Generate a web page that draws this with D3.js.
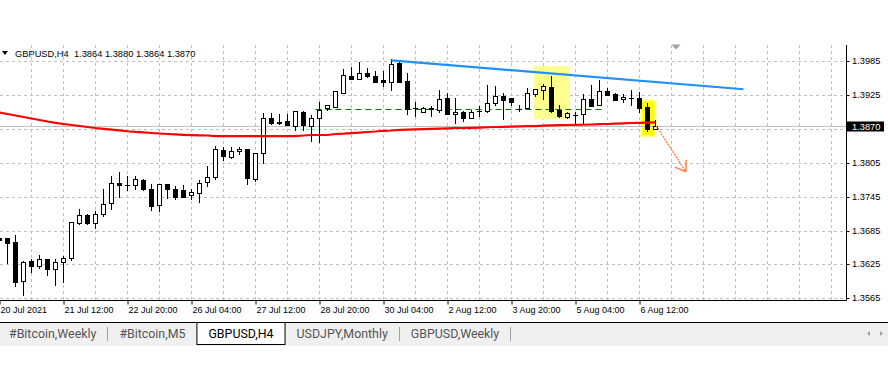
<!DOCTYPE html>
<html>
<head>
<meta charset="utf-8">
<style>
  body { margin: 0; background: #fff; }
  svg { display: block; font-family: Tahoma, "Liberation Sans", Arial, sans-serif; }
</style>
</head>
<body>
<svg width="888" height="384"></svg>
<script src="https://cdn.jsdelivr.net/npm/d3@7/dist/d3.min.js"></script>
<script>
// GBPUSD H4 bars
const open  = [1.3671,1.3671,1.3665,1.3596,1.3631,1.3623,1.3634,1.3616,1.3630,1.3637,
               1.3698,1.3712,1.3698,1.3715,1.3733,1.3769,1.3766,1.3765,1.3774,1.3758,
               1.3730,1.3767,1.3759,1.3757,1.3747,1.3752,1.3770,1.3780,1.3827,1.3815,
               1.3826,1.3829,1.3777,1.3823,1.3885,1.3877,1.3878,1.3870,1.3895,1.3870,
               1.3885,1.3901,1.3904,1.3929,1.3958,1.3953,1.3963,1.3958,1.3951,1.3948,
               1.3981,1.3950,1.3902,1.3894,1.3901,1.3899,1.3919,1.3891,1.3895,1.3885,
               1.3897,1.3896,1.3911,1.3923,1.3919,1.3900,1.3902,1.3927,1.3933,1.3939,
               1.3899,1.3886,1.3890,1.3891,1.3918,1.3908,1.3932,1.3926,1.3918,1.3920,
               1.3919,1.3904,1.3864];
const high  = [1.3673,1.3672,1.3677,1.3631,1.3634,1.3642,1.3635,1.3635,1.3640,1.3700,
               1.3723,1.3715,1.3720,1.3758,1.3782,1.3788,1.3782,1.3781,1.3776,1.3767,
               1.3767,1.3767,1.3764,1.3765,1.3759,1.3774,1.3800,1.3835,1.3832,1.3832,
               1.3832,1.3829,1.3822,1.3893,1.3893,1.3891,1.3891,1.3897,1.3897,1.3889,
               1.3913,1.3908,1.3932,1.3971,1.3975,1.3984,1.3972,1.3968,1.3968,1.3988,
               1.3984,1.3964,1.3912,1.3904,1.3905,1.3934,1.3928,1.3919,1.3897,1.3899,
               1.3905,1.3942,1.3941,1.3928,1.3919,1.3907,1.3937,1.3935,1.3944,1.3958,
               1.3907,1.3894,1.3895,1.3927,1.3943,1.3951,1.3937,1.3929,1.3926,1.3934,
               1.3931,1.3910,1.3880];
const low   = [1.3666,1.3627,1.3586,1.3571,1.3612,1.3619,1.3606,1.3589,1.3594,1.3633,
               1.3697,1.3696,1.3690,1.3711,1.3723,1.3744,1.3757,1.3758,1.3757,1.3721,
               1.3720,1.3743,1.3741,1.3744,1.3741,1.3736,1.3764,1.3776,1.3810,1.3814,
               1.3820,1.3767,1.3773,1.3804,1.3873,1.3873,1.3872,1.3862,1.3863,1.3844,
               1.3842,1.3899,1.3903,1.3928,1.3954,1.3953,1.3957,1.3948,1.3941,1.3934,
               1.3948,1.3891,1.3888,1.3894,1.3888,1.3894,1.3891,1.3876,1.3878,1.3884,
               1.3888,1.3894,1.3907,1.3883,1.3907,1.3896,1.3902,1.3923,1.3918,1.3894,
               1.3886,1.3885,1.3875,1.3875,1.3905,1.3907,1.3925,1.3916,1.3913,1.3907,
               1.3894,1.3861,1.3864];
const close = [1.3668,1.3663,1.3593,1.3629,1.3623,1.3635,1.3616,1.3629,1.3636,1.3700,
               1.3712,1.3699,1.3715,1.3732,1.3769,1.3766,1.3766,1.3776,1.3758,1.3729,
               1.3767,1.3759,1.3745,1.3745,1.3754,1.3769,1.3780,1.3829,1.3816,1.3826,
               1.3829,1.3778,1.3822,1.3885,1.3876,1.3876,1.3872,1.3897,1.3872,1.3884,
               1.3899,1.3907,1.3932,1.3960,1.3954,1.3963,1.3958,1.3948,1.3948,1.3979,
               1.3948,1.3900,1.3901,1.3901,1.3900,1.3917,1.3892,1.3895,1.3885,1.3895,
               1.3897,1.3910,1.3923,1.3916,1.3913,1.3900,1.3929,1.3935,1.3941,1.3897,
               1.3887,1.3893,1.3890,1.3917,1.3905,1.3932,1.3925,1.3916,1.3922,1.3920,
               1.3902,1.3865,1.3870];

// moving average (red)
const ma = [1.38938,1.38912,1.38885,1.38859,1.38832,1.38806,1.38779,1.38756,1.38735,1.38717,
            1.38699,1.38682,1.38664,1.38650,1.38636,1.38622,1.38607,1.38597,1.38586,1.38576,
            1.38567,1.38558,1.38551,1.38544,1.38538,1.38535,1.38531,1.38522,1.38522,1.38522,
            1.38522,1.38522,1.38522,1.38522,1.38522,1.38522,1.38522,1.38522,1.38531,1.38540,
            1.38540,1.38540,1.38558,1.38563,1.38572,1.38581,1.38593,1.38602,1.38615,1.38620,
            1.38632,1.38636,1.38641,1.38646,1.38650,1.38653,1.38659,1.38664,1.38664,1.38668,
            1.38671,1.38677,1.38682,1.38685,1.38689,1.38692,1.38696,1.38699,1.38707,1.38710,
            1.38714,1.38717,1.38719,1.38722,1.38726,1.38731,1.38735,1.38742,1.38747,1.38753,
            1.38756,1.38760,1.38763];

const dateTicks = ["20 Jul 2021","21 Jul 12:00","22 Jul 20:00","26 Jul 04:00","27 Jul 12:00",
                   "28 Jul 20:00","30 Jul 04:00","2 Aug 12:00","3 Aug 20:00","5 Aug 04:00","6 Aug 12:00"];
const priceTicks = [1.3985,1.3925,1.3865,1.3805,1.3745,1.3685,1.3625,1.3565];
const lastPrice = 1.3870;

// drawn objects: [bar index, price]
const blueTrend = [[49, 1.3986], [93, 1.3935]];
const greenLevel = [[39.5, 1.3900], [75.5, 1.3900]];
const arrow = [[82.1, 1.3870], [85.8, 1.3789]];
const paleBox = [[66.8, 1.3976], [71.3, 1.3882]];
const brightBox = [[80.1, 1.3917], [82.1, 1.3850]];

const tabs = ["#Bitcoin,Weekly", "#Bitcoin,M5", "GBPUSD,H4", "USDJPY,Monthly", "GBPUSD,Weekly"];
const activeTab = 2;

let svg = d3.select("svg");

const top_y = 45, axis_y = 300, axis_x = 846;
const x = d3.scaleLinear().domain([0, 82]).range([-0.5, 655.5]);
const y = d3.scaleLinear().domain([1.3565, 1.3985]).range([298.3, 61]);
const px = p => Math.round(y(p)) + 0.5;

svg.append("rect").attr("width", 888).attr("height", 384).attr("fill", "#fff");

// grid
let grid = svg.append("g").attr("stroke", "#c0c0c0").attr("stroke-dasharray", "3,3");
d3.range(4, 105, 4).forEach(i => {
  grid.append("line").attr("x1", x(i)).attr("x2", x(i)).attr("y1", top_y).attr("y2", axis_y);
});
priceTicks.forEach(p => {
  grid.append("line").attr("x1", 0).attr("x2", axis_x).attr("y1", px(p)).attr("y2", px(p));
});

// highlight boxes
svg.append("rect")
  .attr("x", x(paleBox[0][0])).attr("y", y(paleBox[0][1]))
  .attr("width", x(paleBox[1][0]) - x(paleBox[0][0]))
  .attr("height", y(paleBox[1][1]) - y(paleBox[0][1]))
  .attr("fill", "#ffff90");
svg.append("rect")
  .attr("x", x(brightBox[0][0]) + 1).attr("y", y(brightBox[0][1]) + 1)
  .attr("width", x(brightBox[1][0]) - x(brightBox[0][0]) - 2)
  .attr("height", y(brightBox[1][1]) - y(brightBox[0][1]) - 2)
  .attr("fill", "#ffff00").attr("stroke", "#ffff80").attr("stroke-width", 2);

// horizontal level
svg.append("line")
  .attr("x1", x(greenLevel[0][0])).attr("x2", x(greenLevel[1][0]))
  .attr("y1", px(greenLevel[0][1])).attr("y2", px(greenLevel[1][1]))
  .attr("stroke", "#007800").attr("stroke-dasharray", "6,4");

// last price line
svg.append("line").attr("x1", 0).attr("x2", axis_x)
  .attr("y1", px(lastPrice)).attr("y2", px(lastPrice)).attr("stroke", "#c0c0c0");

// candles
let candles = svg.append("g").attr("stroke", "#000").attr("stroke-width", 1);
open.forEach((o, i) => {
  const c = close[i], cx = x(i);
  candles.append("line").attr("x1", cx).attr("x2", cx)
    .attr("y1", px(high[i]) - 0.5).attr("y2", px(low[i]) + 0.5);
  const t = px(Math.max(o, c)), b = px(Math.min(o, c));
  if (b - t < 1) {
    candles.append("line").attr("x1", cx - 2.5).attr("x2", cx + 2.5).attr("y1", t).attr("y2", t);
  } else {
    candles.append("rect").attr("x", cx - 2).attr("width", 4)
      .attr("y", t).attr("height", b - t)
      .attr("fill", c >= o ? "#fff" : "#000");
  }
});

// moving average
svg.append("path").datum(ma)
  .attr("fill", "none").attr("stroke", "#ff0000").attr("stroke-width", 2.2)
  .attr("d", d3.line().x((d, i) => x(i)).y(d => y(d)));

// trend line
svg.append("line")
  .attr("x1", x(blueTrend[0][0])).attr("y1", y(blueTrend[0][1]))
  .attr("x2", x(blueTrend[1][0])).attr("y2", y(blueTrend[1][1]))
  .attr("stroke", "#1e90ff").attr("stroke-width", 2.2);

// arrow
const ax0 = x(arrow[0][0]), ay0 = y(arrow[0][1]), ax1 = x(arrow[1][0]), ay1 = y(arrow[1][1]);
const ang = Math.atan2(ay0 - ay1, ax0 - ax1);
let arrow_g = svg.append("g").attr("stroke", "#ff7f3f").attr("stroke-width", 1.4).attr("fill", "none");
arrow_g.append("line").attr("x1", ax0).attr("y1", ay0).attr("x2", ax1).attr("y2", ay1)
  .attr("stroke-dasharray", "2,1");
[-0.6, 0.6].forEach(da => {
  arrow_g.append("line").attr("x1", ax1).attr("y1", ay1)
    .attr("x2", ax1 + 12 * Math.cos(ang + da)).attr("y2", ay1 + 12 * Math.sin(ang + da));
});

// shift marker
svg.append("path").attr("d", "M671.5,44.5 L680.5,44.5 L676,49.5 Z").attr("fill", "#a0a0a0");

// title
svg.append("path").attr("d", "M2,51 L8,51 L5,55 Z").attr("fill", "#000");
svg.append("text").attr("x", 15).attr("y", 56.5).attr("font-size", "9.3px").attr("fill", "#000")
  .attr("xml:space", "preserve")
  .text("GBPUSD,H4  " + [open[82], high[82], low[82], close[82]].map(d3.format(".4f")).join(" "));

// axes
svg.append("line").attr("x1", 0).attr("x2", axis_x + 0.5).attr("y1", axis_y + 0.5).attr("y2", axis_y + 0.5).attr("stroke", "#000");
svg.append("line").attr("x1", axis_x + 0.5).attr("x2", axis_x + 0.5).attr("y1", top_y).attr("y2", axis_y + 0.5).attr("stroke", "#000");

let xAxis = svg.append("g").attr("transform", `translate(0,${axis_y + 0.5})`)
  .call(d3.axisBottom(x).tickValues(d3.range(0, 81, 8)).tickFormat((d, i) => dateTicks[i]).tickSize(4).tickSizeOuter(0));
xAxis.select(".domain").remove();
xAxis.selectAll("line").attr("stroke", "#000");
xAxis.selectAll("text").attr("text-anchor", "start").attr("dx", 0.5).attr("y", 6)
  .attr("font-family", "Tahoma, 'Liberation Sans', Arial, sans-serif").attr("font-size", "9px").attr("fill", "#000");

// the tick under the last-price label is covered in the terminal, so it gets no text
let yAxis = svg.append("g").attr("transform", `translate(${axis_x + 0.5},0)`)
  .call(d3.axisRight(y).tickValues(priceTicks)
    .tickFormat(d => Math.abs(d - lastPrice) < 0.001 ? "" : d3.format(".4f")(d))
    .tickSize(3).tickSizeOuter(0));
yAxis.select(".domain").remove();
yAxis.selectAll(".tick").attr("transform", d => `translate(0,${px(d)})`);
yAxis.selectAll("line").attr("stroke", "#000");
yAxis.selectAll("text").attr("x", 5.5)
  .attr("font-family", "Tahoma, 'Liberation Sans', Arial, sans-serif").attr("font-size", "9.3px").attr("fill", "#000");

// last price label
svg.append("rect").attr("x", 847).attr("y", px(lastPrice) - 5).attr("width", 37).attr("height", 10).attr("fill", "#000");
svg.append("text").attr("x", 852).attr("y", px(lastPrice)).attr("dy", "0.33em")
  .attr("font-size", "9.3px").attr("fill", "#fff").text(d3.format(".4f")(lastPrice));

// tab bar
let tab_g = svg.append("g").attr("font-family", "Roboto, 'Liberation Sans', sans-serif");
tab_g.append("rect").attr("x", 0).attr("y", 322).attr("width", 888).attr("height", 24).attr("fill", "#f0f0f0");
tab_g.append("line").attr("x1", 0).attr("x2", 888).attr("y1", 322.5).attr("y2", 322.5).attr("stroke", "#000");
let cursor = -3;
tabs.forEach((label, i) => {
  const t = tab_g.append("text").attr("x", cursor + 12).attr("y", 338)
    .attr("font-size", "12.4px").attr("fill", i === activeTab ? "#000" : "#555").text(label);
  const w = t.node().getComputedTextLength();
  const end = cursor + 12 + w + 11;
  if (i === activeTab) {
    tab_g.insert("rect", "text").attr("x", cursor + 0.5).attr("y", 322.5)
      .attr("width", end - cursor).attr("height", 22).attr("fill", "#fff").attr("stroke", "#000");
  } else if (i + 1 !== activeTab) {
    tab_g.append("line").attr("x1", Math.round(end) + 0.5).attr("x2", Math.round(end) + 0.5)
      .attr("y1", 327).attr("y2", 341).attr("stroke", "#a0a0a0");
  }
  cursor = end;
});
tab_g.append("path").attr("d", "M870,331 L867,333.5 L870,336 Z").attr("fill", "#a0a0a0");
tab_g.append("path").attr("d", "M880,331 L883,333.5 L880,336 Z").attr("fill", "#a0a0a0");
</script>
</body>
</html>
